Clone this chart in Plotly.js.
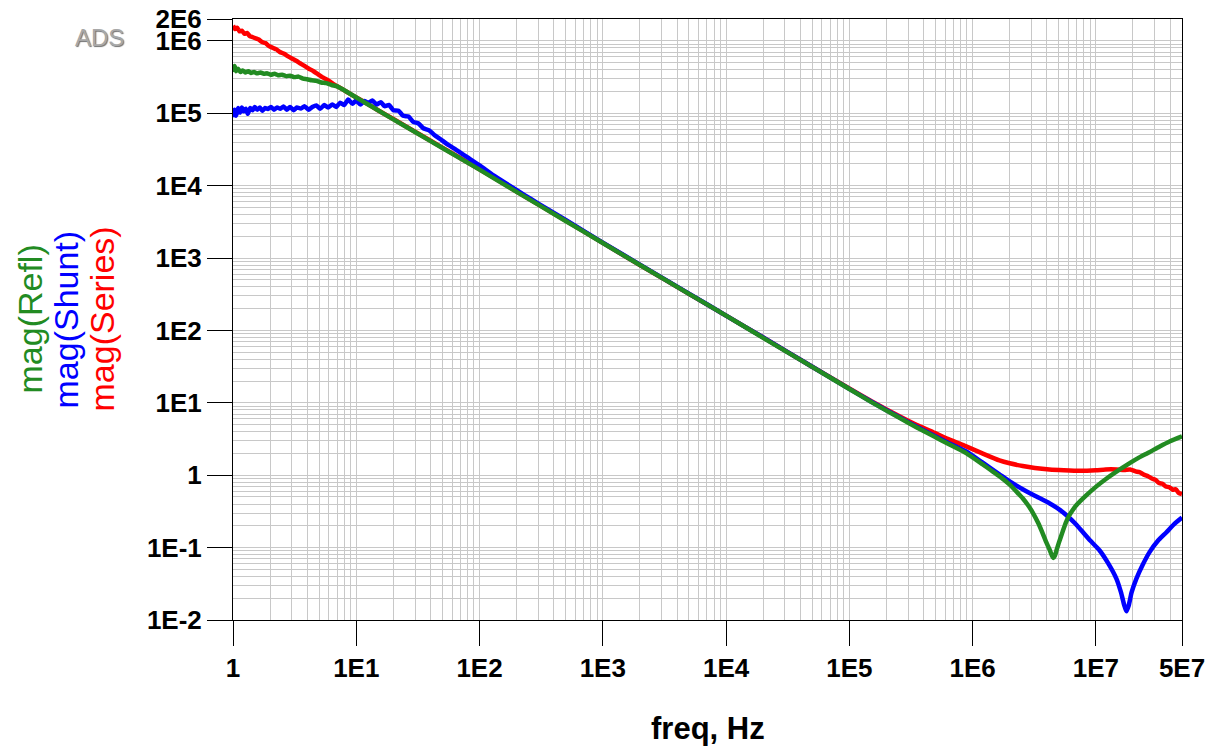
<!DOCTYPE html>
<html>
<head>
<meta charset="utf-8">
<script src="https://cdn.plot.ly/plotly-3.0.1.min.js"></script>
<style>
  html, body { margin: 0; padding: 0; background: #fff; }
  #chart { width: 1215px; height: 749px; }
</style>
</head>
<body>
<div id="chart"></div>
<script>
// ---------- data ----------
const freqSeries = [1, 1.04, 1.08, 1.13, 1.18, 1.24, 1.3, 1.37, 1.45, 1.53, 1.62, 1.72, 1.83, 1.95, 2.1, 2.25, 2.4, 2.6, 2.8, 3.0, 3.25, 3.5, 3.8, 4.1, 4.5, 4.9, 5.4, 6.0, 6.6, 7.3, 8.0, 9.0, 10, 12, 15, 20, 30, 50, 100, 200, 500, 1e3, 2e3, 5e3, 1e4, 2e4, 5e4, 1e5, 1.5e5, 2.55e5, 3.5e5, 4.76e5, 6.5e5, 8.87e5, 1.2e6, 1.65e6, 2.0e6, 2.55e6, 3.2e6, 4.2e6, 5.5e6, 7.4e6, 1.0e7, 1.2e7, 1.47e7, 1.7e7, 1.9e7, 2.1e7, 2.26e7, 2.45e7, 2.65e7, 2.85e7, 3.05e7, 3.25e7, 3.47e7, 3.7e7, 3.95e7, 4.2e7, 4.45e7, 4.7e7, 5.0e7];
const magSeries = [1.62e6, 1.45e6, 1.52e6, 1.35e6, 1.38e6, 1.25e6, 1.28e6, 1.16e6, 1.12e6, 1.08e6, 1.04e6, 9.6e5, 9.3e5, 8.5e5, 8.0e5, 7.6e5, 7.0e5, 6.6e5, 6.1e5, 5.7e5, 5.3e5, 4.9e5, 4.5e5, 4.15e5, 3.8e5, 3.45e5, 3.1e5, 2.8e5, 2.5e5, 2.27e5, 2.07e5, 1.83e5, 1.65e5, 1.38e5, 1.1e5, 8.3e4, 5.55e4, 3.35e4, 1.68e4, 8.3e3, 3.3e3, 1.62e3, 8.0e2, 3.2e2, 1.6e2, 80, 31.5, 15.8, 10.6, 6.5, 4.95, 3.95, 3.1, 2.5, 2.0, 1.6, 1.46, 1.34, 1.26, 1.2, 1.17, 1.15, 1.17, 1.2, 1.2, 1.18, 1.2, 1.13, 1.1, 1.02, 0.97, 0.9, 0.86, 0.78, 0.76, 0.7, 0.68, 0.63, 0.64, 0.57, 0.55];

const freqShunt = [1, 1.03, 1.06, 1.1, 1.14, 1.18, 1.22, 1.27, 1.32, 1.38, 1.44, 1.5, 1.57, 1.65, 1.73, 1.82, 1.92, 2.03, 2.15, 2.28, 2.42, 2.57, 2.73, 2.9, 3.1, 3.3, 3.55, 3.8, 4.1, 4.4, 4.75, 5.1, 5.5, 5.9, 6.4, 6.9, 7.4, 8.0, 8.6, 9.3, 10, 10.8, 11.6, 12.5, 13.5, 14.6, 15.8, 17, 18.4, 20, 22, 24, 26.5, 29, 32, 35, 39, 43, 48, 55, 65, 80, 100, 130, 170, 230, 300, 500, 1e3, 2e3, 5e3, 1e4, 2e4, 5e4, 1e5, 1.5e5, 2.55e5, 3.5e5, 4.76e5, 6.5e5, 8.87e5, 1.2e6, 1.65e6, 2.0e6, 2.55e6, 3.2e6, 4.2e6, 5.0e6, 5.78e6, 6.8e6, 7.8e6, 9.0e6, 1.07e7, 1.25e7, 1.47e7, 1.6e7, 1.7e7, 1.77e7, 1.85e7, 1.95e7, 2.13e7, 2.4e7, 2.72e7, 3.2e7, 3.74e7, 4.3e7, 5e7];
const magShunt = [0.88e5, 1.12e5, 0.92e5, 1.18e5, 1.02e5, 1.2e5, 1.06e5, 1.15e5, 0.98e5, 1.18e5, 1.1e5, 1.22e5, 1.12e5, 1.2e5, 1.08e5, 1.18e5, 1.14e5, 1.22e5, 1.12e5, 1.2e5, 1.15e5, 1.24e5, 1.12e5, 1.22e5, 1.1e5, 1.2e5, 1.16e5, 1.25e5, 1.12e5, 1.22e5, 1.28e5, 1.15e5, 1.3e5, 1.2e5, 1.32e5, 1.22e5, 1.4e5, 1.3e5, 1.55e5, 1.35e5, 1.5e5, 1.32e5, 1.48e5, 1.38e5, 1.5e5, 1.32e5, 1.42e5, 1.25e5, 1.3e5, 1.1e5, 1.08e5, 0.92e5, 0.9e5, 0.76e5, 0.72e5, 0.62e5, 0.58e5, 0.5e5, 0.44e5, 0.37e5, 0.31e5, 0.245e5, 0.19e5, 0.138e5, 0.103e5, 0.0745e5, 0.0565e5, 3.35e3, 1.63e3, 8.1e2, 3.22e2, 1.6e2, 80, 31.5, 15.6, 10.4, 6.3, 4.7, 3.6, 2.75, 2.12, 1.5, 1.03, 0.82, 0.64, 0.52, 0.41, 0.34, 0.28, 0.215, 0.165, 0.125, 0.092, 0.062, 0.037, 0.024, 0.016, 0.0132, 0.016, 0.024, 0.037, 0.058, 0.086, 0.125, 0.163, 0.21, 0.26];

const freqRefl = [1, 1.03, 1.06, 1.1, 1.15, 1.2, 1.26, 1.33, 1.4, 1.48, 1.57, 1.67, 1.78, 1.9, 2.03, 2.17, 2.32, 2.5, 2.7, 2.9, 3.15, 3.4, 3.7, 4.0, 4.35, 4.75, 5.2, 5.7, 6.3, 7.0, 7.8, 8.7, 10, 12, 15, 20, 30, 50, 100, 200, 500, 1e3, 2e3, 5e3, 1e4, 2e4, 5e4, 1e5, 1.5e5, 2.55e5, 3.5e5, 4.76e5, 6.5e5, 8.87e5, 1.2e6, 1.4e6, 1.65e6, 2.0e6, 2.3e6, 2.55e6, 2.8e6, 3.06e6, 3.4e6, 3.69e6, 3.95e6, 4.2e6, 4.4e6, 4.53e6, 4.65e6, 4.8e6, 5.0e6, 5.37e6, 5.7e6, 6.1e6, 7.0e6, 8.4e6, 1.0e7, 1.2e7, 1.47e7, 1.8e7, 2.2e7, 2.72e7, 3.3e7, 4.0e7, 5e7];
const magRefl = [3.7e5, 4.5e5, 3.8e5, 4.1e5, 3.7e5, 3.9e5, 3.65e5, 3.8e5, 3.6e5, 3.7e5, 3.55e5, 3.65e5, 3.5e5, 3.55e5, 3.4e5, 3.5e5, 3.35e5, 3.4e5, 3.25e5, 3.3e5, 3.15e5, 3.2e5, 3.0e5, 2.95e5, 2.85e5, 2.8e5, 2.65e5, 2.6e5, 2.45e5, 2.35e5, 2.12e5, 1.9e5, 1.65e5, 1.37e5, 1.1e5, 8.2e4, 5.5e4, 3.3e4, 1.66e4, 8.2e3, 3.25e3, 1.61e3, 8.0e2, 3.2e2, 1.6e2, 79, 31.3, 15.5, 10.3, 6.2, 4.6, 3.5, 2.65, 2.02, 1.42, 1.18, 0.97, 0.74, 0.58, 0.48, 0.39, 0.31, 0.22, 0.16, 0.12, 0.095, 0.078, 0.072, 0.077, 0.092, 0.115, 0.165, 0.22, 0.28, 0.39, 0.53, 0.69, 0.88, 1.12, 1.4, 1.72, 2.08, 2.5, 2.95, 3.45];

const xTickVals = [1, 1e1, 1e2, 1e3, 1e4, 1e5, 1e6, 1e7, 5e7];
const xTickText = ["1", "1E1", "1E2", "1E3", "1E4", "1E5", "1E6", "1E7", "5E7"];
const yTickVals = [1e-2, 1e-1, 1, 1e1, 1e2, 1e3, 1e4, 1e5, 1e6, 2e6];
const yTickText = ["1E-2", "1E-1", "1", "1E1", "1E2", "1E3", "1E4", "1E5", "1E6", "2E6"];
const yTitles = ["mag(Refl)", "mag(Shunt)", "mag(Series)"];

// ---------- minor grid positions (2..9 within each decade) ----------
function minorVals(kFrom, kTo, maxVal) {
  const out = [];
  for (let k = kFrom; k <= kTo; k++) {
    for (let d = 2; d <= 9; d++) {
      const v = d * Math.pow(10, k);
      if (v < maxVal) out.push(v);
    }
  }
  return out;
}

const GREEN = '#228B22', BLUE = '#0000FF', RED = '#FF0000';
const LW = 4.5;
const lineShape = { shape: 'spline', smoothing: 0.5 };

const traces = [
  { x: freqSeries, y: magSeries, type: 'scatter', mode: 'lines', name: 'mag(Series)', line: Object.assign({ color: RED, width: LW }, lineShape) },
  { x: freqShunt, y: magShunt, type: 'scatter', mode: 'lines', name: 'mag(Shunt)', line: Object.assign({ color: BLUE, width: LW }, lineShape) },
  { x: freqRefl, y: magRefl, type: 'scatter', mode: 'lines', name: 'mag(Refl)', line: Object.assign({ color: GREEN, width: LW }, lineShape) }
];

const tickFont = { family: 'Liberation Sans, Arial, sans-serif', size: 26, weight: 'bold', color: '#000' };
const gridCol = '#c8c8c8';

const L = 233, R = 1182, T = 19, B = 620;
const W = R - L, H = B - T;
const px2x = p => (p - L) / W;
const py2y = p => (B - p) / H;

const yTitleColors = [GREEN, BLUE, RED];
const yTitleX = [29, 65, 101];

const annotations = yTitles.map((t, i) => ({
  text: t, xref: 'paper', yref: 'paper',
  x: px2x(yTitleX[i]), y: 0.5, xanchor: 'center', yanchor: 'middle',
  textangle: -90, showarrow: false,
  font: { family: 'Liberation Sans, Arial, sans-serif', size: 34, color: yTitleColors[i] }
}));
annotations.push({
  text: 'freq, Hz', xref: 'paper', yref: 'paper',
  x: 0.5, y: py2y(728), xanchor: 'center', yanchor: 'middle', showarrow: false,
  font: { family: 'Liberation Sans, Arial, sans-serif', size: 31, weight: 'bold', color: '#000' }
});
annotations.push({
  text: 'ADS', xref: 'paper', yref: 'paper',
  x: px2x(99), y: py2y(38), xanchor: 'center', yanchor: 'middle', showarrow: false,
  font: { family: 'Liberation Sans, Arial, sans-serif', size: 24, color: '#a8a8a8', shadow: '1px 1px 1px #707070' }
});

const layout = {
  width: 1215, height: 749,
  margin: { l: L, r: 1215 - R, t: T, b: 749 - B, pad: 0 },
  paper_bgcolor: '#fff', plot_bgcolor: '#fff',
  showlegend: false,
  xaxis: {
    type: 'log', range: [0, Math.log10(5e7)], automargin: false,
    tickmode: 'array', tickvals: xTickVals, ticktext: xTickText,
    ticks: 'outside', ticklen: 25, tickwidth: 1, tickcolor: '#000',
    showline: true, linecolor: '#000', linewidth: 1, mirror: true,
    showgrid: true, gridcolor: gridCol, gridwidth: 1, zeroline: false,
    minor: { tickmode: 'array', tickvals: minorVals(0, 7, 5e7), showgrid: true, gridcolor: gridCol, gridwidth: 1, ticks: '' },
    tickfont: tickFont
  },
  yaxis: {
    type: 'log', range: [-2, Math.log10(2e6)], automargin: false,
    tickmode: 'array', tickvals: yTickVals, ticktext: yTickText,
    ticks: 'outside', ticklen: 25, tickwidth: 1, tickcolor: '#000',
    showline: true, linecolor: '#000', linewidth: 1, mirror: true,
    showgrid: true, gridcolor: gridCol, gridwidth: 1, zeroline: false,
    minor: { tickmode: 'array', tickvals: minorVals(-2, 5, 2e6), showgrid: true, gridcolor: gridCol, gridwidth: 1, ticks: '' },
    tickfont: tickFont
  },
  annotations: annotations
};

Plotly.newPlot('chart', traces, layout, { displayModeBar: false, staticPlot: true });
</script>
</body>
</html>
